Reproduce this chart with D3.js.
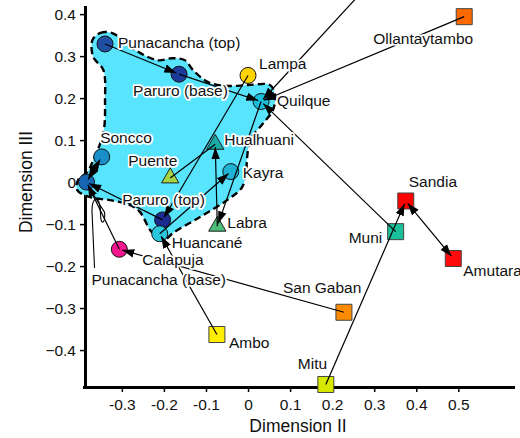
<!DOCTYPE html>
<html>
<head>
<meta charset="utf-8">
<script src="https://cdn.jsdelivr.net/npm/d3@7"></script>
<style>
  body { margin: 0; background: #fff; }
  text { font-family: "Liberation Sans", Arial, sans-serif; }
</style>
</head>
<body>
<svg id="chart" width="520" height="438"></svg>
<script>
// ---- data ---------------------------------------------------------------
const sites = [
  "Punacancha (top)", "Paruro (base)", "Lampa", "Quilque", "Soncco",
  "Punacancha (base)", "Paruro (top)", "Huancané", "Calapuja", "Kayra",
  "Puente", "Hualhuani", "Labra",
  "Ollantaytambo", "Sandia", "Muni", "Amutara", "San Gaban", "Mitu", "Ambo"
];
const dim2 = [
  -0.340, -0.164, 0.000, 0.031, -0.348,
  -0.384, -0.203, -0.210, -0.306, -0.041,
  -0.185, -0.078, -0.073,
  0.514, 0.375, 0.351, 0.488, 0.228, 0.185, -0.074
];
const dim3 = [
  0.329, 0.257, 0.254, 0.192, 0.060,
  0.000, -0.090, -0.123, -0.160, 0.025,
  0.010, 0.090, -0.105,
  0.394, -0.045, -0.118, -0.182, -0.310, -0.482, -0.363
];
// links: [from, to, heads] — heads: 1 = arrow at "to", 2 = both ends, 0 = none
const links = [
  ["Punacancha (top)", "Paruro (base)", 1],
  ["Paruro (base)", "Quilque", 1],
  ["Lampa", "Paruro (top)", 1],
  [[0.36, 0.55], "Quilque", 1],
  ["Ollantaytambo", "Quilque", 1],
  ["Muni", "Quilque", 1],
  ["Quilque", "Labra", 1],
  ["Labra", "Hualhuani", 1],
  ["Puente", "Hualhuani", 0],
  ["Huancané", "Kayra", 1],
  ["Ambo", "Huancané", 1],
  ["San Gaban", "Calapuja", 1],
  ["Calapuja", "Punacancha (base)", 1],
  ["Paruro (top)", "Punacancha (base)", 1],
  ["Soncco", "Punacancha (base)", 2],
  ["Mitu", "Sandia", 1],
  ["Amutara", "Sandia", 2]
];
// outline of the shaded central group (Dimension II, Dimension III)
const groupOutline = [
  [-0.370, 0.338], [-0.352, 0.355], [-0.323, 0.355], [-0.268, 0.314],
  [-0.214, 0.290], [-0.181, 0.295], [-0.150, 0.290], [-0.131, 0.267],
  [-0.095, 0.238], [-0.048, 0.229], [0.000, 0.231], [0.052, 0.231],
  [0.064, 0.207], [0.059, 0.171], [0.036, 0.140], [0.005, 0.100],
  [-0.002, 0.060], [-0.005, 0.021], [-0.014, -0.012], [-0.050, -0.043],
  [-0.114, -0.083], [-0.178, -0.121], [-0.197, -0.136], [-0.216, -0.131],
  [-0.233, -0.114], [-0.257, -0.071], [-0.280, -0.055], [-0.328, -0.043],
  [-0.375, -0.036], [-0.406, -0.019], [-0.404, 0.005], [-0.382, 0.024],
  [-0.368, 0.052], [-0.344, 0.117], [-0.340, 0.195], [-0.344, 0.267],
  [-0.368, 0.298]
];
const xTicks = [-0.3, -0.2, -0.1, 0, 0.1, 0.2, 0.3, 0.4, 0.5];
const xTickLabels = ["-0.3", "-0.2", "-0.1", "0", "0.1", "0.2", "0.3", "0.4", "0.5"];
const yTicks = [-0.4, -0.3, -0.2, -0.1, 0, 0.1, 0.2, 0.3, 0.4];
const yTickLabels = ["\u22120.4", "\u22120.3", "\u22120.2", "\u22120.1", "0", "0.1", "0.2", "0.3", "0.4"];

// ---- styling ------------------------------------------------------------
const markerStyle = {
  "Punacancha (top)": ["circle", "#1f4fa3"],
  "Paruro (base)": ["circle", "#1b3a9a"],
  "Lampa": ["circle", "#ffd400"],
  "Quilque": ["circle", "#1cbddb"],
  "Soncco": ["circle", "#1a8ec9"],
  "Punacancha (base)": ["circle", "#1766b3"],
  "Paruro (top)": ["circle", "#1b2a8f"],
  "Huancané": ["circle", "#29c6de"],
  "Calapuja": ["circle", "#f5168f"],
  "Kayra": ["circle", "#1fb2d4"],
  "Puente": ["triangle", "#a6d443"],
  "Hualhuani": ["triangle", "#1aaba6"],
  "Labra": ["triangle", "#4dbd7a"],
  "Ollantaytambo": ["square", "#ff6a00"],
  "Sandia": ["square", "#ff0000"],
  "Muni": ["square", "#1abf9c"],
  "Amutara": ["square", "#ff0a0a"],
  "San Gaban": ["square", "#ff8c00"],
  "Mitu": ["square", "#d7e800"],
  "Ambo": ["square", "#ffee00"]
};
// label anchor offsets from the marker centre (px)
const labelOffset = {
  "Punacancha (top)": [13, 4], "Paruro (base)": [-46, 22], "Lampa": [11, -6],
  "Quilque": [16, 5], "Soncco": [-1.5, -13.5], "Punacancha (base)": [5, 102.5],
  "Paruro (top)": [-40.5, -15], "Huancané": [12, 14], "Calapuja": [23, 15.5],
  "Kayra": [12, 6.5], "Puente": [-42, -12], "Hualhuani": [9, 1], "Labra": [10, 2],
  "Ollantaytambo": [-91, 27], "Sandia": [3, -13.5], "Muni": [-47, 11.4],
  "Amutara": [10, 17], "San Gaban": [-61, -19.5], "Mitu": [-28, -15], "Ambo": [12, 13.5]
};

// ---- scales & axes ------------------------------------------------------
const svg = d3.select("#chart");
svg.append("rect").attr("width", 520).attr("height", 438).attr("fill", "#fff");

const x = d3.scaleLinear().domain([-0.39, 0.63]).range([84, 513]);
const y = d3.scaleLinear().domain([-0.488, 0.417]).range([387, 7]);

const gx = svg.append("g").attr("transform", "translate(0,387)")
  .call(d3.axisBottom(x).tickValues(xTicks).tickSize(5).tickSizeOuter(0).tickPadding(7)
    .tickFormat((d, i) => xTickLabels[i]));
const gy = svg.append("g").attr("transform", "translate(85,0)")
  .call(d3.axisLeft(y).tickValues(yTicks).tickSize(5).tickSizeOuter(0).tickPadding(4)
    .tickFormat((d, i) => yTickLabels[i]));
[gx, gy].forEach(g => {
  g.select(".domain").attr("stroke", "#000").attr("stroke-width", 3).attr("stroke-linecap", "square");
  g.selectAll(".tick line").attr("stroke", "#000").attr("stroke-width", 1.5);
  g.selectAll(".tick text").attr("font-size", 15.5).attr("fill", "#111")
    .style("font-family", '"Liberation Sans", Arial, sans-serif');
});

svg.append("text").attr("x", 298).attr("y", 432).attr("text-anchor", "middle")
  .attr("font-size", 17.5).attr("fill", "#111").text("Dimension II");
svg.append("text").attr("transform", "translate(32,182) rotate(-90)").attr("text-anchor", "middle")
  .attr("font-size", 17.5).attr("fill", "#111").text("Dimension III");

// ---- shaded group -------------------------------------------------------
svg.append("path")
  .attr("d", d3.line().x(d => x(d[0])).y(d => y(d[1])).curve(d3.curveCatmullRomClosed.alpha(0.5))(groupOutline))
  .attr("fill", "#58e4fd").attr("stroke", "#000").attr("stroke-width", 2.4)
  .attr("stroke-dasharray", "7,4");

// ---- markers ------------------------------------------------------------
const pts = sites.map((s, i) => ({ name: s, px: x(dim2[i]), py: y(dim3[i]) }));
const byName = Object.fromEntries(pts.map(p => [p.name, p]));

const gm = svg.append("g");
pts.forEach(p => {
  const [shape, color] = markerStyle[p.name];
  if (shape === "circle") {
    gm.append("circle").attr("cx", p.px).attr("cy", p.py).attr("r", 8)
      .attr("fill", color).attr("stroke", "#111").attr("stroke-width", 1);
  } else {
    const sym = shape === "square" ? d3.symbolSquare : d3.symbolTriangle;
    const size = shape === "square" ? 256 : 130;
    gm.append("path").attr("d", d3.symbol(sym, size)())
      .attr("transform", `translate(${p.px},${p.py})`)
      .attr("fill", color).attr("stroke", shape === "square" ? "#444" : "#222").attr("stroke-width", 1);
  }
});

// ---- links --------------------------------------------------------------
const defs = svg.append("defs");
defs.append("marker").attr("id", "head").attr("markerUnits", "userSpaceOnUse")
  .attr("viewBox", "0 -5 12 10").attr("refX", 12).attr("refY", 0)
  .attr("markerWidth", 12).attr("markerHeight", 10).attr("orient", "auto-start-reverse")
  .append("path").attr("d", "M0,-4.3L12,0L0,4.3Z").attr("fill", "#000");

const gl = svg.append("g");
links.forEach(([a, b, heads]) => {
  const pa = typeof a === "string" ? byName[a] : { px: x(a[0]), py: y(a[1]) };
  const pb = byName[b];
  const dx = pb.px - pa.px, dy = pb.py - pa.py, len = Math.hypot(dx, dy);
  const ux = dx / len, uy = dy / len, trim = 3;
  const x1 = pa.px + (heads === 2 ? ux * trim : 0), y1 = pa.py + (heads === 2 ? uy * trim : 0);
  const x2 = pb.px - (heads >= 1 ? ux * trim : 0), y2 = pb.py - (heads >= 1 ? uy * trim : 0);
  const ln = gl.append("line").attr("x1", x1).attr("y1", y1).attr("x2", x2).attr("y2", y2)
    .attr("stroke", "#000").attr("stroke-width", 1.2);
  if (heads >= 1) ln.attr("marker-end", "url(#head)");
  if (heads === 2) ln.attr("marker-start", "url(#head)");
});

// leader from the "Punacancha (base)" label up to its marker
const pb0 = byName["Punacancha (base)"];
gl.append("path")
  .attr("d", `M${pb0.px + 8},${pb0.py + 86} L${pb0.px + 5.5},${pb0.py + 30}
    C${pb0.px + 5},${pb0.py + 12} ${pb0.px + 14},${pb0.py + 13} ${pb0.px + 14},${pb0.py + 32}
    C${pb0.px + 14},${pb0.py + 44} ${pb0.px + 19},${pb0.py + 42} ${pb0.px + 18},${pb0.py + 30}
    L${pb0.px + 4},${pb0.py + 8}`)
  .attr("fill", "none").attr("stroke", "#000").attr("stroke-width", 1.1);

// ---- labels -------------------------------------------------------------
const gt = svg.append("g");
pts.forEach(p => {
  const [ox, oy] = labelOffset[p.name];
  gt.append("text").attr("x", p.px + ox).attr("y", p.py + oy)
    .attr("font-size", 15.5).attr("fill", "#111")
    .attr("stroke", "#fff").attr("stroke-width", 3.5).attr("stroke-linejoin", "round")
    .attr("paint-order", "stroke").text(p.name);
});
</script>
</body>
</html>
